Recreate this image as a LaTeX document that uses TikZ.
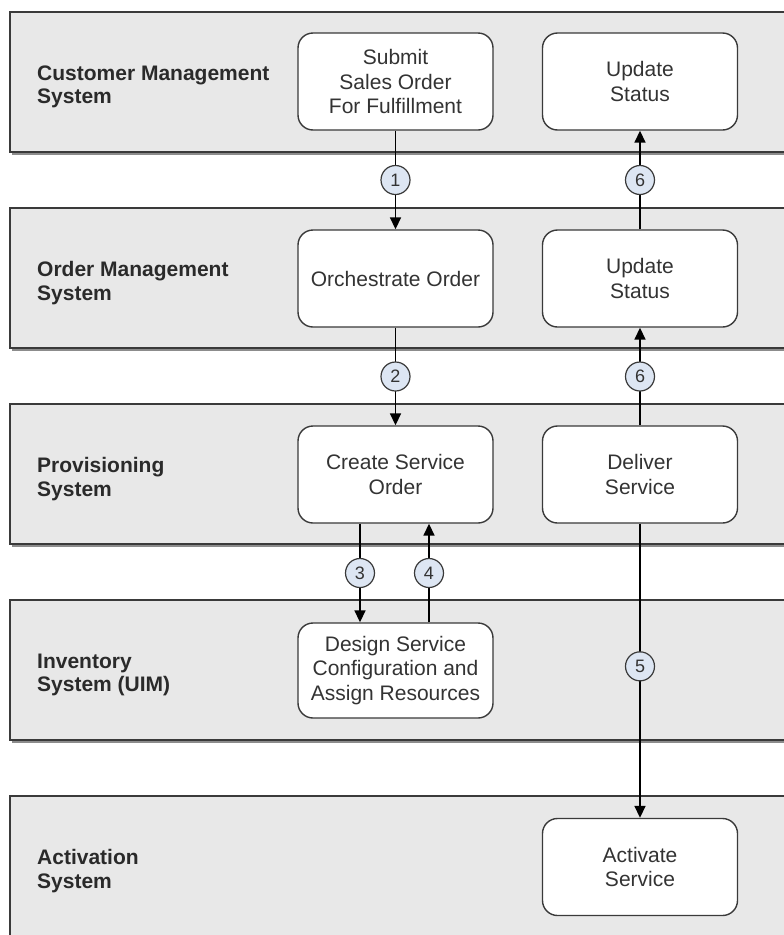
\documentclass[tikz,border=0pt]{standalone}
\usepackage{fontspec}
\setmainfont{Liberation Sans}
\usetikzlibrary{arrows.meta}
\definecolor{bandfill}{HTML}{E8E8E8}
\definecolor{bandline}{HTML}{3A3A3A}
\definecolor{circfill}{HTML}{DDE6F3}
\definecolor{txt}{HTML}{2A2A2A}
\definecolor{boxtxt}{HTML}{333333}
\begin{document}
\begin{tikzpicture}[x=1pt,y=-1pt,
  band/.style={fill=bandfill,draw=bandline,line width=1.6pt},
  bandshadow/.style={fill=black!45},
  lane/.style={anchor=west,align=left,inner sep=0pt,text=txt,
    font=\bfseries\fontsize{21}{23.5}\selectfont},
  task/.style={draw=bandline,fill=white,line width=1.4pt,rounded corners=15pt,
    minimum width=195pt,minimum height=97pt,align=center,inner sep=0pt,
    text=boxtxt,font=\fontsize{21}{24.5}\selectfont},
  arr/.style={line width=1.7pt,-{Triangle[length=12pt,width=11pt]}},
  numc/.style={circle,draw=bandline,fill=circfill,line width=1.2pt,
    minimum size=29pt,inner sep=0pt,text=boxtxt,font=\fontsize{18}{18}\selectfont}]
\useasboundingbox (0,0) rectangle (784,935);
\clip (0,0) rectangle (784,935);
\fill[white] (0,0) rectangle (784,935);
% bands
\foreach \t in {12,208,404,600}{
  \fill[bandshadow] (12,\t+3) rectangle (800,\t+143);
  \draw[band] (10,\t) rectangle (800,\t+140);
}
\fill[bandshadow] (12,799) rectangle (800,960);
\draw[band] (10,796) rectangle (800,960);
% lane labels
\node[lane] (l1) at (37,87) {Customer Management\\System};
\node[lane] (l2) at (37,283) {Order Management\\System};
\node[lane] (l3) at (37,479) {Provisioning\\System};
\node[lane] (l4) at (37,675) {Inventory\\System (UIM)};
\node[lane] (l5) at (37,871) {Activation\\System};
% tasks
\node[task] (submit) at (395.5,81.5) {Submit\\Sales Order\\For Fulfillment};
\node[task] (upd1) at (640,81.5) {Update\\Status};
\node[task] (orch) at (395.5,278.5) {Orchestrate Order};
\node[task] (upd2) at (640,278.5) {Update\\Status};
\node[task] (create) at (395.5,474.5) {Create Service\\Order};
\node[task] (deliver) at (640,474.5) {Deliver\\Service};
\node[task,minimum height=95pt] (design) at (395.5,670.5) {Design Service\\Configuration and\\Assign Resources};
\node[task] (activate) at (640,867) {Activate\\Service};
% connectors
\draw[arr] (submit.south) -- node[numc] (n1) {1} (orch.north);
\draw[arr] (orch.south) -- node[numc] (n2) {2} (create.north);
\draw[arr] (upd2.north) -- node[numc] (n6a) {6} (upd1.south);
\draw[arr] (deliver.north) -- node[numc] (n6b) {6} (upd2.south);
\draw[arr] (create.south -| 360,0) -- node[numc] (n3) {3} (design.north -| 360,0);
\draw[arr] (design.north -| 429,0) -- node[numc] (n4) {4} (create.south -| 429,0);
\draw[arr] (deliver.south) -- node[numc,pos=0.485] (n5) {5} (activate.north);
\end{tikzpicture}
\end{document}
